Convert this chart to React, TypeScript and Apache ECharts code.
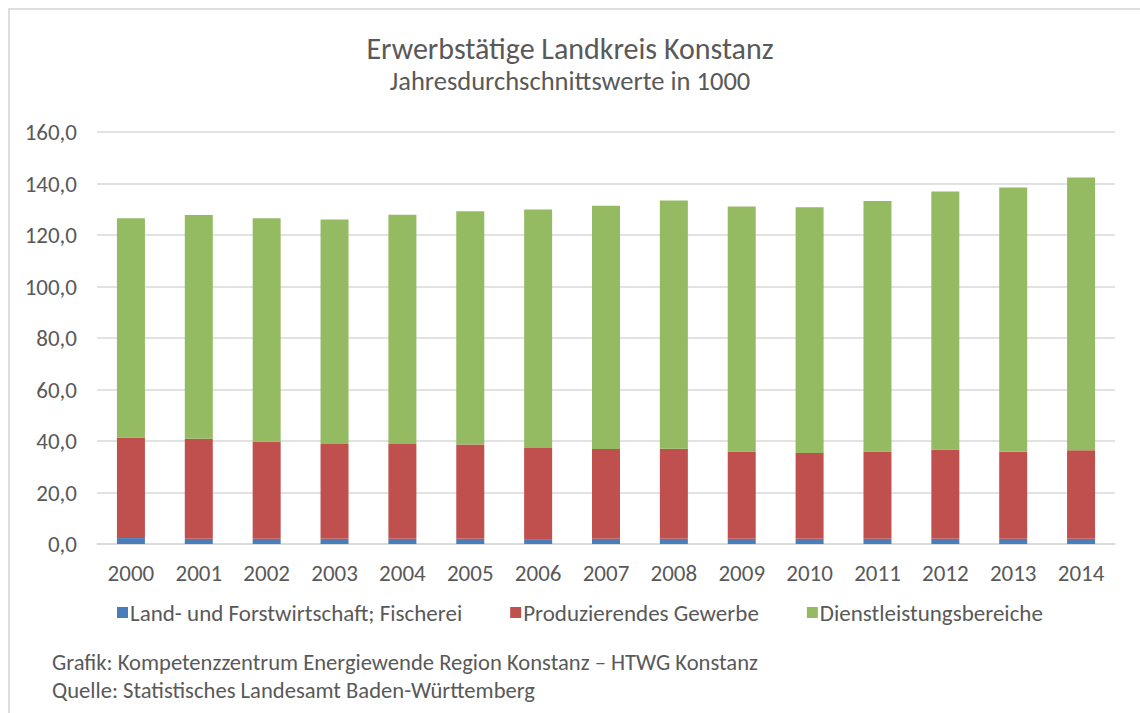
import React, { useEffect, useRef } from "react";
import * as echarts from "echarts";

const years = ["2000","2001","2002","2003","2004","2005","2006","2007","2008","2009","2010","2011","2012","2013","2014"];
const landwirtschaft = [2.3, 2.0, 2.0, 2.0, 2.0, 2.0, 1.9, 2.0, 2.0, 2.0, 2.0, 2.0, 2.0, 2.0, 2.0];
const produzierend = [39.1, 38.9, 37.7, 36.8, 36.8, 36.6, 35.4, 34.9, 35.0, 33.9, 33.3, 33.9, 34.7, 33.8, 34.4];
const dienstleistung = [85.1, 86.9, 86.8, 87.2, 89.1, 90.6, 92.6, 94.5, 96.4, 95.2, 95.5, 97.3, 100.2, 102.6, 105.9];
const seriesNames = ["Land- und Forstwirtschaft; Fischerei", "Produzierendes Gewerbe", "Dienstleistungsbereiche"];
const seriesColors = ["#4A7EBB", "#C0504D", "#94BB62"];
const titleText = "Erwerbstätige Landkreis Konstanz";
const subtitleText = "Jahresdurchschnittswerte in 1000";
const footerLines = [
  "Grafik: Kompetenzzentrum Energiewende Region Konstanz – HTWG Konstanz",
  "Quelle: Statistisches Landesamt Baden-Württemberg",
];

const FONT = "Carlito, Lato, 'Open Sans', sans-serif";
const GREY = "#595959";

export default function App() {
  const ref = useRef<HTMLDivElement>(null);
  useEffect(() => {
    if (!ref.current) return;
    const chart = echarts.init(ref.current, null, { renderer: "svg" });
    const data = [landwirtschaft, produzierend, dienstleistung];
    chart.setOption({
      animation: false,
      backgroundColor: "#ffffff",
      textStyle: { fontFamily: FONT },
      title: [
        { text: titleText, left: "center", top: 28, textStyle: { fontFamily: FONT, fontSize: 30, fontWeight: "normal", color: GREY } },
        { text: subtitleText, left: "center", top: 62, textStyle: { fontFamily: FONT, fontSize: 26.5, fontWeight: "normal", color: GREY } },
      ],
      legend: {
        data: seriesNames,
        left: 112,
        top: 596,
        icon: "rect",
        itemWidth: 11,
        itemHeight: 11,
        itemGap: 48,
        textStyle: { fontFamily: FONT, fontSize: 23, color: GREY, padding: [0, 0, 0, -3] },
      },
      grid: { left: 97, right: 25, top: 132, bottom: 169, containLabel: false },
      xAxis: {
        type: "category",
        data: years,
        axisLine: { lineStyle: { color: "#d9d9d9", width: 1.5 } },
        axisTick: { show: false },
        axisLabel: { fontFamily: FONT, fontSize: 23, color: GREY, margin: 17 },
      },
      yAxis: {
        type: "value",
        min: 0,
        max: 160,
        interval: 20,
        axisLine: { show: false },
        axisTick: { show: false },
        splitLine: { lineStyle: { color: "#d9d9d9", width: 1.5 } },
        axisLabel: {
          fontFamily: FONT,
          fontSize: 23,
          color: GREY,
          margin: 20,
          formatter: (v: number) => v.toFixed(1).replace(".", ","),
        },
      },
      series: seriesNames.map((name, i) => ({
        name,
        type: "bar",
        stack: "total",
        barWidth: 28,
        itemStyle: { color: seriesColors[i] },
        data: data[i],
      })),
      graphic: [
        {
          type: "rect",
          shape: { x: 9, y: 9, width: 1140, height: 720 },
          style: { fill: "none", stroke: "#dedede", lineWidth: 2 },
          silent: true,
        },
        ...footerLines.map((t, i) => ({
          type: "text",
          left: 52,
          top: 650 + i * 28,
          style: { text: t, fontFamily: FONT, fontSize: 22.6, fill: GREY },
        })),
      ],
    });
    return () => chart.dispose();
  }, []);
  return (
    <div
      ref={ref}
      style={{ position: "fixed", left: 0, top: 0, width: 1140, height: 713, background: "#fff" }}
    />
  );
}
